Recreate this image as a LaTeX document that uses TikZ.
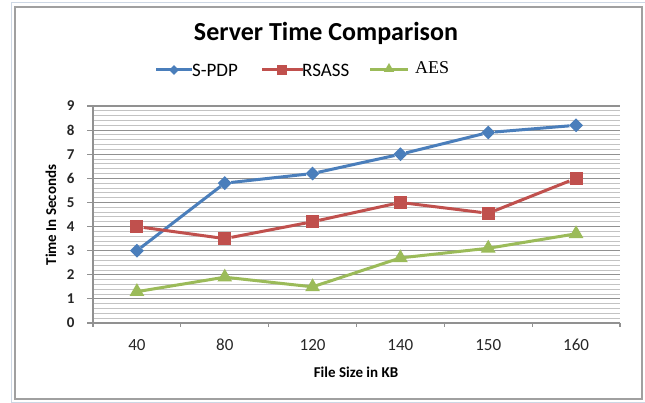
\documentclass[tikz,border=0pt]{standalone}
\usepackage{fontspec}
\setmainfont{Carlito}
\newfontfamily\aesfont{Liberation Serif}
\usetikzlibrary{shapes, arrows, arrows.meta}
\definecolor{spdpblue}{RGB}{74,126,187}
\definecolor{rsassred}{RGB}{192,80,77}
\definecolor{aesgreen}{RGB}{155,187,89}
\definecolor{framegrey}{RGB}{160,160,160}
\definecolor{paleframe}{RGB}{205,215,228}
\definecolor{gridmajor}{RGB}{145,145,145}
\definecolor{gridminor}{RGB}{195,195,195}

\tikzset{
  spdpline/.style={draw=spdpblue, line width=3pt},
  rsassline/.style={draw=rsassred, line width=3pt},
  aesline/.style={draw=aesgreen, line width=3pt},
  spdpmark/.style={diamond, fill=spdpblue, inner sep=0pt, minimum size=14pt},
  rsassmark/.style={rectangle, fill=rsassred, inner sep=0pt, minimum size=13pt},
  aesmark/.style={regular polygon, regular polygon sides=3, fill=aesgreen, inner sep=0pt, minimum size=17pt},
  ticklabel/.style={font=\fontsize{15}{18}\selectfont\bfseries, text=black!85},
  axislabel/.style={font=\fontsize{15}{18}\selectfont\bfseries},
  legendtext/.style={font=\fontsize{19}{22}\selectfont, anchor=west, inner sep=1pt}
}

\begin{document}
\begin{tikzpicture}[x=1pt, y=-1pt]
  \useasboundingbox (0,0) rectangle (645,403);
  % frame
  \draw[paleframe, line width=1pt] (11,403) -- (11,3) -- (645,3);
  \draw[paleframe, line width=1pt] (11,402) -- (645,402);
  \draw[framegrey, line width=1.6pt] (15,7) rectangle (642,399);

  % title and legend
  \node[font=\fontsize{26}{31}\selectfont\bfseries] (title) at (326,33) {Server Time Comparison};
  \draw[spdpline] (156,70) -- (192,70);
  \node[spdpmark, minimum size=10pt] (lg1) at (174,70) {};
  \node[legendtext] (lt1) at (191,70) {S-PDP};
  \draw[rsassline] (262,70) -- (303,70);
  \node[rsassmark, minimum size=10pt] (lg2) at (282,70) {};
  \node[legendtext] (lt2) at (301,70) {RSASS};
  \draw[aesline] (370,70) -- (408,70);
  \node[aesmark, minimum size=12pt] (lg3) at (389,69) {};
  \node[legendtext, font=\fontsize{18}{21}\selectfont\aesfont] (lt3) at (414,68) {AES};

  % axis labels
  \node[axislabel, rotate=90] (ylab) at (51,215) {Time In Seconds};
  \node[axislabel] (xlab) at (356,372) {File Size in KB};

  \begin{scope}[shift={(93,323)}, x=87.83pt, y=24.11pt]
    % grid
    \foreach \k in {1,...,45}
      \draw[gridminor, line width=0.9pt] (0,\k/5) -- (6,\k/5);
    \foreach \v in {1,...,9}
      \draw[gridmajor, line width=1.1pt] (0,\v) -- (6,\v);
    % axes and ticks
    \draw[gridmajor, line width=1.1pt] (0,0) -- (0,9);
    \draw[gridmajor, line width=1.1pt] (0,0) -- (6,0);
    \foreach \v in {0,...,9} {
      \draw[gridmajor, line width=1.1pt] (-0.065,\v) -- (0,\v);
      \node[ticklabel, anchor=east] (y\v) at (-0.17,\v) {\v};
    }
    \foreach \i in {0,...,6}
      \draw[gridmajor, line width=1.1pt] (\i,0) -- (\i,-0.17);
    \foreach \lab [count=\i from 0] in {40,80,120,140,150,160}
      \node[ticklabel, font=\fontsize{17}{20}\selectfont] (x\i) at (\i+0.5,-0.92) {\lab};

    % S-PDP
    \foreach \val [count=\i from 0] in {3,5.8,6.2,7,7.9,8.2}
      \node[spdpmark] (s\i) at (\i+0.5,\val) {};
    \draw[spdpline] (s0) -- (s1) -- (s2) -- (s3) -- (s4) -- (s5);
    % RSASS
    \foreach \val [count=\i from 0] in {4,3.5,4.2,5,4.55,6}
      \node[rsassmark] (r\i) at (\i+0.5,\val) {};
    \draw[rsassline] (r0) -- (r1) -- (r2) -- (r3) -- (r4) -- (r5);
    % AES
    \foreach \val [count=\i from 0] in {1.3,1.9,1.5,2.7,3.1,3.7}
      \node[aesmark] (a\i) at (\i+0.5,\val) {};
    \draw[aesline] (a0.center) -- (a1.center) -- (a2.center) -- (a3.center) -- (a4.center) -- (a5.center);
  \end{scope}
\end{tikzpicture}
\end{document}
